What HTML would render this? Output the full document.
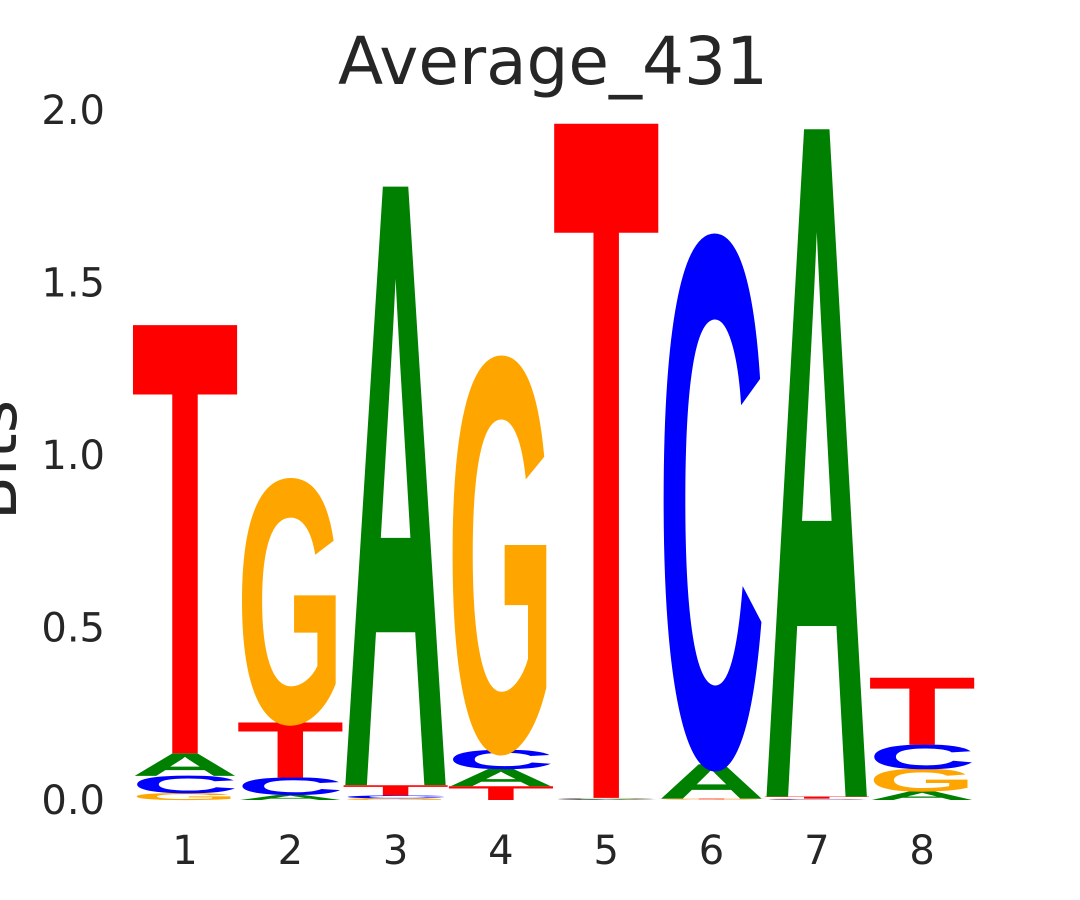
<!DOCTYPE html>
<html><head><meta charset="utf-8"><style>
html,body{margin:0;padding:0;background:#fff;overflow:hidden;width:1080px;height:900px;}
svg{display:block;overflow:hidden;}
text{font-family:"DejaVu Sans","Liberation Sans",sans-serif;}
</style></head><body>
<svg id="chart" width="1080" height="900" viewBox="0 0 1080 900">
<text x="553" y="84" font-size="66" text-anchor="middle" fill="#262626">Average_431</text>
<text transform="translate(16,460) rotate(-90)" font-size="64" text-anchor="middle" fill="#262626">Bits</text>
<g id="yticks"></g><g id="xticks"></g><g id="letters"></g>
</svg>
<script>
const positions = ["1","2","3","4","5","6","7","8"];
const heightA = [0.065, 0.015, 1.74, 0.05, 0.002, 0.10, 1.94, 0.025];
const heightC = [0.05, 0.05, 0.008, 0.055, 0.002, 1.52, 0.002, 0.07];
const heightG = [0.02, 0.70, 0.005, 1.13, 0.002, 0.002, 0.002, 0.065];
const heightT = [1.245, 0.16, 0.03, 0.04, 1.96, 0.002, 0.006, 0.195];
const yTicks = [0, 0.5, 1.0, 1.5, 2.0];
const yTickLabels = ["0.0","0.5","1.0","1.5","2.0"];

const NS="http://www.w3.org/2000/svg";
const y0=800, pxPerBit=345;
function yScale(v){return y0 - v*pxPerBit;}
function xScale(i){return 185 + i*105.3;}
const colW=108, capH=69;
const colors={A:"#008000",C:"#0000ff",G:"#ffa500",T:"#ff0000"};

const yg=document.getElementById('yticks');
yTicks.forEach((v,i)=>{
  const t=document.createElementNS(NS,'text');
  
  
  t.setAttribute('x',105);t.setAttribute('y',yScale(v)+14);
  t.setAttribute('font-size','40');t.setAttribute('text-anchor','end');t.setAttribute('fill','#262626');
  t.textContent=yTickLabels[i];yg.appendChild(t);
});
const xg=document.getElementById('xticks');
positions.forEach((p,i)=>{
  const t=document.createElementNS(NS,'text');
  
  
  t.setAttribute('x',xScale(i));t.setAttribute('y',864);
  t.setAttribute('font-size','40');t.setAttribute('text-anchor','middle');t.setAttribute('fill','#262626');
  t.textContent=p;xg.appendChild(t);
});
const lg=document.getElementById('letters');
positions.forEach((p,i)=>{
  const stack=[["A",heightA[i]],["C",heightC[i]],["G",heightG[i]],["T",heightT[i]]].sort((a,b)=>a[1]-b[1]);
  let base=0;
  stack.forEach(([L,h])=>{
    const hp=h*pxPerBit;
    if(hp>0.3){
      const t=document.createElementNS(NS,'text');
      
      
      t.setAttribute('x',0);t.setAttribute('y',0);
      t.setAttribute('font-size','100');t.setAttribute('font-weight','bold');
      t.setAttribute('style','font-family:"Liberation Sans",sans-serif');
      t.setAttribute('textLength',colW);t.setAttribute('lengthAdjust','spacingAndGlyphs');
      t.setAttribute('fill',colors[L]);
      t.setAttribute('transform','translate('+(xScale(i)-colW/2)+','+yScale(base)+') scale(1,'+(hp/capH)+')');
      t.textContent=L;lg.appendChild(t);
    }
    base+=h;
  });
});
</script>
</body></html>
